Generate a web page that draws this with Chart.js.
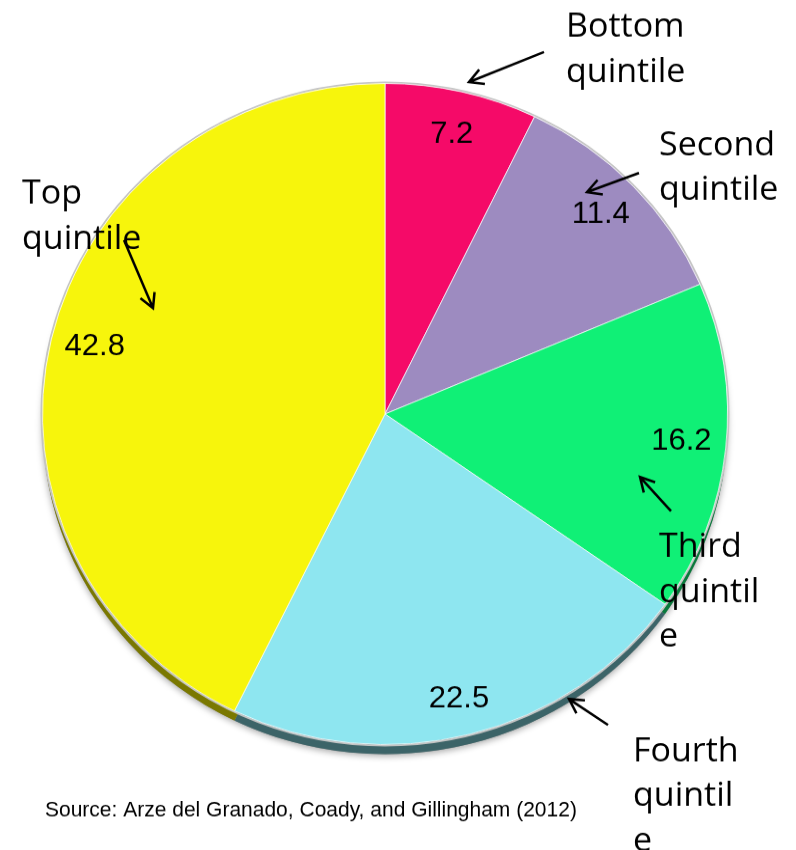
<!DOCTYPE html>
<html>
<head>
<meta charset="utf-8">
<script src="https://cdn.jsdelivr.net/npm/chart.js@4.4.1/dist/chart.umd.min.js"></script>
<style>
  html, body { margin: 0; padding: 0; background: #fff; }
  body { width: 796px; height: 850px; overflow: hidden; position: relative; }
  /* canvas squashed a little to give the tilted pie look */
  #wrap { position: absolute; left: 0; top: 0; width: 796px; height: 881px; transform: scaleY(0.965); transform-origin: 0 0; }
</style>
</head>
<body>
<div id="wrap"><canvas id="pie" width="796" height="881"></canvas></div>
<script>
const categories = ['Bottom quintile', 'Second quintile', 'Third quintile', 'Fourth quintile', 'Top quintile'];
const shares = [7.2, 11.4, 16.2, 22.5, 42.8];
const sliceColors = ['#f50a68', '#9d8bc0', '#10f076', '#8ee6f0', '#f7f50c'];
const edgeColors = ['#7a0534', '#4e4560', '#087a3b', '#3c6468', '#7a7800'];
const sourceNote = 'Source: Arze del Granado, Coady, and Gillingham (2012)';

const TILT = 0.965;     // must match the css scaleY
const DEPTH = 10;       // thickness of the pie side

// callout text + arrow (page pixels), arrow head at the 2nd point
const callouts = [
    { lines: ['Bottom', 'quintile'], x: 566, y: 37, arrow: [544, 52, 469, 82] },
    { lines: ['Second', 'quintile'], x: 659, y: 155, arrow: [639, 173, 587, 192] },
    { lines: ['Third', 'quintil', 'e'], x: 659, y: 557, arrow: [671, 511, 640, 477] },
    { lines: ['Fourth', 'quintil', 'e'], x: 633, y: 761, arrow: [608, 725, 569, 699] },
    { lines: ['Top', 'quintile'], x: 22, y: 204, arrow: [124, 240, 153, 308] }
];

// side of the pie, drawn under the faces
const depthPlugin = {
    id: 'depth',
    beforeDatasetsDraw(chart) {
        const ctx = chart.ctx;
        const arcs = chart.getDatasetMeta(0).data;
        if (!arcs.length) return;
        const c = arcs[0].getProps(['x', 'y', 'outerRadius']);

        ctx.save();
        // soft shadow round the whole disc
        ctx.shadowColor = 'rgba(0,0,0,0.35)';
        ctx.shadowBlur = 7;
        ctx.shadowOffsetY = 2;
        ctx.beginPath();
        ctx.arc(c.x, c.y + DEPTH, c.outerRadius, 0, Math.PI * 2);
        ctx.fillStyle = '#888';
        ctx.fill();
        ctx.shadowColor = 'transparent';

        arcs.forEach((arc, i) => {
            const p = arc.getProps(['x', 'y', 'startAngle', 'endAngle', 'outerRadius']);
            ctx.beginPath();
            ctx.moveTo(p.x, p.y + DEPTH);
            ctx.arc(p.x, p.y + DEPTH, p.outerRadius, p.startAngle, p.endAngle);
            ctx.closePath();
            ctx.fillStyle = edgeColors[i];
            ctx.fill();
        });

        // thin grey rim round the face
        ctx.beginPath();
        ctx.arc(c.x, c.y, c.outerRadius + 1, 0, Math.PI * 2);
        ctx.strokeStyle = '#c4c4c4';
        ctx.lineWidth = 2;
        ctx.stroke();
        ctx.restore();
    }
};

function drawArrow(ctx, x1, y1, x2, y2) {
    const ang = Math.atan2(y2 - y1, x2 - x1);
    const head = 16;
    ctx.beginPath();
    ctx.moveTo(x1, y1);
    ctx.lineTo(x2, y2);
    ctx.moveTo(x2 - head * Math.cos(ang - 0.5), y2 - head * Math.sin(ang - 0.5));
    ctx.lineTo(x2, y2);
    ctx.lineTo(x2 - head * Math.cos(ang + 0.5), y2 - head * Math.sin(ang + 0.5));
    ctx.stroke();
}

// values, callouts and source note
const textPlugin = {
    id: 'annotate',
    afterDraw(chart) {
        const ctx = chart.ctx;
        const arcs = chart.getDatasetMeta(0).data;
        ctx.save();
        ctx.scale(1, 1 / TILT);     // undo the squash so text keeps its shape
        ctx.fillStyle = '#000';

        // value labels near the rim; far half a bit stretched, near half less (perspective)
        ctx.font = '31px "Liberation Sans", Arial, sans-serif';
        ctx.textAlign = 'center';
        ctx.textBaseline = 'middle';
        arcs.forEach((arc, i) => {
            const p = arc.getProps(['x', 'y', 'startAngle', 'endAngle', 'outerRadius']);
            const mid = (p.startAngle + p.endAngle) / 2;
            const r = p.outerRadius * 0.87;
            const sy = Math.sin(mid) < 0 ? 0.95 : 1.0;
            ctx.fillText(shares[i].toFixed(1), p.x + Math.cos(mid) * r, p.y * TILT - 4 + Math.sin(mid) * r * sy);
        });

        // callouts
        ctx.font = '34px "Open Sans", "Noto Sans", sans-serif';
        ctx.textAlign = 'left';
        ctx.textBaseline = 'alphabetic';
        ctx.strokeStyle = '#000';
        ctx.lineWidth = 2.5;
        callouts.forEach(c => {
            c.lines.forEach((t, j) => ctx.fillText(t, c.x, c.y + j * 45));
            drawArrow(ctx, ...c.arrow);
        });

        ctx.font = '21px "Liberation Sans", Arial, sans-serif';
        ctx.fillText(sourceNote, 45, 816);
        ctx.restore();
    }
};

new Chart(document.getElementById('pie'), {
    type: 'pie',
    data: {
        labels: categories,
        datasets: [{
            data: shares,
            backgroundColor: sliceColors,
            borderColor: 'rgba(255,255,255,0.75)',
            borderWidth: 1,
            hoverOffset: 0
        }]
    },
    options: {
        responsive: false,
        animation: false,
        layout: { padding: { left: 42, right: 68, top: 86, bottom: 109 } },
        plugins: {
            legend: { display: false },
            tooltip: { enabled: false }
        }
    },
    plugins: [depthPlugin, textPlugin]
});
</script>
</body>
</html>
